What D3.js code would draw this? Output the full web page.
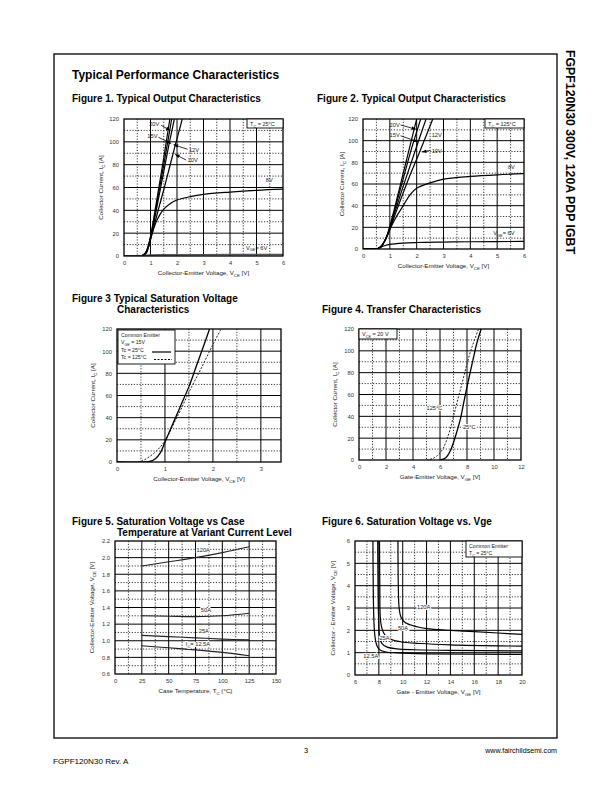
<!DOCTYPE html>
<html><head><meta charset="utf-8">
<script src="https://cdn.jsdelivr.net/npm/d3@7"></script>
<style>
body{margin:0;background:#fff}
svg{display:block;font-family:"Liberation Sans",Arial,sans-serif}
</style>
</head><body>
<svg id="c" width="612" height="792"></svg>
<script>
// ---------------- DATA ----------------
const fig1XTicks=[0,1,2,3,4,5,6];
const fig1YTicks=[0,20,40,60,80,100,120];
const fig1_20V=[[0,0],[0.62,0],[0.72,0.8],[0.82,3],[0.92,9],[1.0,17],[1.1,30],[1.3,58],[1.5,86],[1.73,120]];
const fig1_15V=[[0,0],[0.62,0],[0.72,0.8],[0.82,3],[0.92,9],[1.0,16.5],[1.1,28],[1.3,54],[1.5,80],[1.8,120]];
const fig1_12V=[[0,0],[0.63,0],[0.73,0.8],[0.83,3],[0.93,9],[1.01,16.5],[1.1,26],[1.3,50],[1.5,74],[1.7,98],[1.9,120]];
const fig1_10V=[[0,0],[0.64,0],[0.74,0.8],[0.84,3],[0.94,9],[1.02,16],[1.1,23],[1.3,41],[1.5,58],[1.7,76],[1.9,94],[2.2,120]];
const fig1_8V=[[0,0],[0.65,0],[0.75,0.7],[0.85,3],[0.95,10],[1.05,19],[1.2,29],[1.35,36],[1.5,41],[1.75,46],[2.0,49],[2.5,52],[3,54],[4,56],[5,57.5],[6,58.5]];
const fig1_6V=[[0,0],[0.6,0],[0.8,0.4],[1.0,0.8],[1.5,1.0],[3,1.1],[6,1.3]];

const fig2XTicks=[0,1,2,3,4,5,6];
const fig2YTicks=[0,20,40,60,80,100,120];
const fig2_20V=[[0,0],[0.5,0],[0.6,0.8],[0.7,3],[0.8,7],[0.9,13],[1.0,21],[1.2,40],[1.5,70],[1.8,100],[2.0,120]];
const fig2_15V=[[0,0],[0.5,0],[0.6,0.8],[0.7,3],[0.8,7],[0.9,12.5],[1.0,20],[1.2,38],[1.5,65],[1.8,92],[2.15,120]];
const fig2_12V=[[0,0],[0.5,0],[0.6,0.8],[0.7,3],[0.8,7],[0.9,12],[1.0,19],[1.2,35],[1.5,58],[1.8,80],[2.1,102],[2.35,120]];
const fig2_10V=[[0,0],[0.5,0],[0.6,0.8],[0.7,3],[0.8,7],[0.9,12],[1.0,18],[1.2,32],[1.5,52],[1.8,71],[2.2,95],[2.6,120]];
const fig2_8V=[[0,0],[0.5,0],[0.6,0.8],[0.7,3],[0.8,7],[0.9,12],[1.0,18],[1.2,28],[1.5,40],[1.75,50],[2.0,56],[2.5,61],[3,64.5],[4,67],[5,68.5],[6,69.5]];
const fig2_6V=[[0,0],[0.5,0],[0.6,1],[0.8,3],[1.0,4.3],[1.5,5.5],[2,6],[3,6.4],[4,6.7],[6,7]];

const fig3XTicks=[0,1,2,3];
const fig3YTicks=[0,20,40,60,80,100,120];
const fig3_25C=[[0,0],[0.6,0],[0.7,0.7],[0.8,3],[0.9,8],[1.0,18],[1.1,28],[1.2,38],[1.35,53],[1.5,68],[1.65,86],[1.8,104],[1.93,120]];
const fig3_125C=[[0,0],[0.45,0],[0.55,1.5],[0.7,5.5],[0.8,9],[0.9,13.5],[1.0,19],[1.1,27],[1.2,36],[1.35,49],[1.5,63],[1.75,84],[2.0,106],[2.17,120]];

const fig4XTicks=[0,2,4,6,8,10,12];
const fig4YTicks=[0,20,40,60,80,100,120];
const fig4_25C=[[6.0,0],[6.3,1],[6.5,3],[6.75,8],[7.0,16],[7.25,26],[7.5,37],[7.75,52],[8.0,67],[8.25,81],[8.5,95],[8.75,108],[9.05,120]];
const fig4_125C=[[5.0,0],[5.5,1.5],[5.75,3.5],[6.0,6.5],[6.25,11],[6.5,18.5],[6.75,28],[7.0,40],[7.25,52],[7.5,64],[7.75,76],[8.0,88],[8.25,99],[8.5,108],[8.85,120]];

const fig5XTicks=[0,25,50,75,100,125,150];
const fig5YTicks=[0.6,0.8,1.0,1.2,1.4,1.6,1.8,2.0,2.2];
const fig5Temps=[25,50,75,100,125];
const fig5_120A=[1.90,1.95,2.00,2.06,2.13];
const fig5_50A=[1.30,1.295,1.29,1.30,1.33];
const fig5_25A=[1.065,1.05,1.035,1.02,1.01];
const fig5_12A5=[0.94,0.915,0.89,0.86,0.82];

const fig6XTicks=[6,8,10,12,14,16,18,20];
const fig6YTicks=[0,1,2,3,4,5,6];
const fig6_12A5=[[7.5,6.3],[7.53,4],[7.58,2.5],[7.68,1.7],[7.85,1.3],[8.1,1.12],[8.6,1.03],[9.5,0.99],[12,0.95],[20,0.92]];
const fig6_25A=[[7.9,6.3],[7.93,4],[7.98,2.5],[8.05,1.8],[8.25,1.42],[8.7,1.25],[9.5,1.17],[11,1.13],[14,1.1],[20,1.08]];
const fig6_50A=[[8.05,6.3],[8.08,4],[8.12,2.6],[8.25,2.1],[8.5,1.8],[9.0,1.6],[9.8,1.49],[11.5,1.41],[14,1.35],[20,1.29]];
const fig6_120A=[[9.6,6.3],[9.63,4],[9.7,3],[9.85,2.6],[10.2,2.35],[11.2,2.16],[12,2.08],[14,2.0],[16,1.94],[18,1.88],[20,1.82]];

// ---------------- HELPERS ----------------
const svg=d3.select("#c");
const FONT='"Liberation Sans",Arial,sans-serif';

function rich(g,x,y,str,o={}){
  const size=o.size||6;
  const t=g.append("text").attr("x",x).attr("y",y).attr("font-size",size)
    .attr("fill",o.fill||"#1a1a1a").attr("text-anchor",o.anchor||"start")
    .attr("font-weight",o.weight||"normal");
  if(o.rotate) t.attr("transform",`rotate(${o.rotate},${x},${y})`);
  const parts=str.split(/(_\{[^}]*\})/);
  let sub=false;
  parts.forEach(p=>{
    if(!p) return;
    if(p.startsWith("_{")){
      t.append("tspan").attr("font-size",size*0.7).attr("dy",size*0.3).text(p.slice(2,-1));
      sub=true;
    } else {
      const ts=t.append("tspan").text(p);
      if(sub){ts.attr("dy",-size*0.3);sub=false;}
    }
  });
  return t;
}

let clipId=0;
function chart(o){
  const x=d3.scaleLinear().domain(o.xd).range([o.x0,o.x1]);
  const y=d3.scaleLinear().domain(o.yd).range([o.yb,o.yt]);
  const g=svg.append("g");
  const xs=o.xTicks, ys=o.yTicks;
  const xStep=xs[1]-xs[0], yStep=ys[1]-ys[0];
  const xMinor=[]; for(let v=o.xd[0]+xStep/2; v<o.xd[1]-1e-9; v+=xStep) xMinor.push(v);
  const yMinor=[]; for(let v=o.yd[0]+yStep/2; v<o.yd[1]-1e-9; v+=yStep) yMinor.push(v);
  g.selectAll(".xm").data(xMinor).join("line").attr("x1",d=>x(d)).attr("x2",d=>x(d))
    .attr("y1",o.yt).attr("y2",o.yb).attr("stroke","#000").attr("stroke-width",0.8).attr("stroke-dasharray","1.2,1.6");
  g.selectAll(".ym").data(yMinor).join("line").attr("y1",d=>y(d)).attr("y2",d=>y(d))
    .attr("x1",o.x0).attr("x2",o.x1).attr("stroke","#000").attr("stroke-width",0.8).attr("stroke-dasharray","1.2,1.6");
  g.selectAll(".xM").data(xs.filter(v=>v>o.xd[0]&&v<o.xd[1])).join("line").attr("x1",d=>x(d)).attr("x2",d=>x(d))
    .attr("y1",o.yt).attr("y2",o.yb).attr("stroke","#000").attr("stroke-width",1);
  g.selectAll(".yM").data(ys.filter(v=>v>o.yd[0]&&v<o.yd[1])).join("line").attr("y1",d=>y(d)).attr("y2",d=>y(d))
    .attr("x1",o.x0).attr("x2",o.x1).attr("stroke","#000").attr("stroke-width",1);
  const fmt=o.fmt||(d=>d);
  const ax=g.append("g").attr("transform",`translate(0,${o.yb})`)
    .call(d3.axisBottom(x).tickValues(xs).tickSize(0).tickPadding(5).tickFormat(fmt));
  ax.select(".domain").remove();
  ax.selectAll("text").attr("font-size",5.8).attr("font-family",FONT).attr("fill","#333");
  const ay=g.append("g").attr("transform",`translate(${o.x0},0)`)
    .call(d3.axisLeft(y).tickValues(ys).tickSize(0).tickPadding(5).tickFormat(o.yfmt||(d=>d)));
  ay.select(".domain").remove();
  ay.selectAll("text").attr("font-size",5.8).attr("font-family",FONT).attr("fill","#333");
  const cid="clip"+(clipId++);
  svg.append("clipPath").attr("id",cid).append("rect").attr("x",o.x0).attr("y",o.yt)
    .attr("width",o.x1-o.x0).attr("height",o.yb-o.yt);
  const cg=g.append("g").attr("clip-path",`url(#${cid})`);
  const line=d3.line().x(d=>x(d[0])).y(d=>y(d[1])).curve(d3.curveCatmullRom.alpha(0.5));
  o.series.forEach(s=>{
    cg.append("path").attr("d",line(s.data)).attr("fill","none")
      .attr("stroke",s.color||"#000").attr("stroke-width",s.w||1.2)
      .attr("stroke-dasharray",s.dash||null);
  });
  g.append("rect").attr("x",o.x0).attr("y",o.yt).attr("width",o.x1-o.x0).attr("height",o.yb-o.yt)
    .attr("fill","none").attr("stroke","#000").attr("stroke-width",1.3);
  rich(g,(o.x0+o.x1)/2,o.yb+19,o.xTitle,{size:6.2,anchor:"middle"});
  rich(g,o.x0-(o.yTitleOff||20),(o.yt+o.yb)/2,o.yTitle,{size:6.2,anchor:"middle",rotate:-90});
  return {g,x,y};
}

function boxText(g,x0,y0,w,h,lines,size){
  g.append("rect").attr("x",x0).attr("y",y0).attr("width",w).attr("height",h)
    .attr("fill","#fff").attr("stroke","#000").attr("stroke-width",0.9);
  lines.forEach((l,i)=>rich(g,x0+3,y0+size+1.5+i*(size+2.2),l,{size}));
}

function arrow(c,fx,fy,tx,ty){
  const x1=c.x(fx),y1=c.y(fy),x2=c.x(tx),y2=c.y(ty);
  c.g.append("line").attr("x1",x1).attr("y1",y1).attr("x2",x2).attr("y2",y2).attr("stroke","#000").attr("stroke-width",0.8);
  const a=Math.atan2(y2-y1,x2-x1), L=4.5, W=1.8;
  const p=[[x2,y2],[x2-L*Math.cos(a)+W*Math.sin(a),y2-L*Math.sin(a)-W*Math.cos(a)],[x2-L*Math.cos(a)-W*Math.sin(a),y2-L*Math.sin(a)+W*Math.cos(a)]];
  c.g.append("polygon").attr("points",p.map(q=>q.join(",")).join(" ")).attr("fill","#000");
}
function label(c,dx,dy,str,o={}){
  const t=rich(c.g,c.x(dx),c.y(dy),str,Object.assign({size:5.7},o));
  t.attr("paint-order","stroke").attr("stroke","#fff").attr("stroke-width",o.halo||0);
  return t;
}

// ---------------- PAGE ----------------
svg.append("rect").attr("x",54).attr("y",54).attr("width",503).attr("height",684)
  .attr("fill","none").attr("stroke","#000").attr("stroke-width",1.3);
svg.append("text").attr("x",72).attr("y",79).attr("font-size",12).attr("font-weight","bold").text("Typical Performance Characteristics");
svg.append("text").attr("transform","translate(566,50) rotate(90)").attr("font-size",12.3).attr("font-weight","bold").text("FGPF120N30  300V, 120A PDP IGBT");
svg.append("text").attr("x",53).attr("y",764).attr("font-size",8.1).text("FGPF120N30 Rev. A");
svg.append("text").attr("x",306).attr("y",753).attr("font-size",7.5).attr("text-anchor","middle").text("3");
svg.append("text").attr("x",557).attr("y",753).attr("font-size",7.1).attr("text-anchor","end").text("www.fairchildsemi.com");

const tf={size:10,weight:"bold",fill:"#000"};
rich(svg,72,102,"Figure 1. Typical Output Characteristics",tf);
rich(svg,317,102,"Figure 2. Typical Output Characteristics",tf);
rich(svg,72,302,"Figure 3 Typical Saturation Voltage",tf);
rich(svg,117,313,"Characteristics",tf);
rich(svg,322,313,"Figure 4.  Transfer Characteristics",tf);
rich(svg,72,525,"Figure 5. Saturation Voltage vs Case",tf);
rich(svg,117,536,"Temperature at Variant Current  Level",tf);
rich(svg,322,525,"Figure 6.  Saturation Voltage vs. Vge",tf);

// Figure 1
const c1=chart({xd:[0,6],yd:[0,120],x0:124,x1:283,yt:119,yb:256,xTicks:fig1XTicks,yTicks:fig1YTicks,
  xTitle:"Collector-Emitter Voltage, V_{CE} [V]",yTitle:"Collector Current, I_{C} [A]",yTitleOff:21,
  series:[{data:fig1_20V},{data:fig1_15V},{data:fig1_12V},{data:fig1_10V},{data:fig1_8V},{data:fig1_6V,color:"#555",w:1.6}]});
boxText(c1.g,283-36,119,36,9,["T_{C} = 25°C"],5.5);
label(c1,0.95,114,"20V"); arrow(c1,1.4,114.5,1.75,110);
label(c1,0.88,103,"15V"); arrow(c1,1.3,104,1.78,98.5);
label(c1,2.45,91.5,"12V"); arrow(c1,2.4,93.5,1.87,97.5);
label(c1,2.4,82,"10V"); arrow(c1,2.35,84,1.93,89);
label(c1,5.35,65,"8V");
label(c1,4.6,5.5,"V_{GE}= 6V");

// Figure 2
const c2=chart({xd:[0,6],yd:[0,120],x0:363,x1:524,yt:119,yb:249,xTicks:fig2XTicks,yTicks:fig2YTicks,
  xTitle:"Collector-Emitter Voltage, V_{CE} [V]",yTitle:"Collector Current, I_{C} [A]",yTitleOff:19,
  series:[{data:fig2_20V},{data:fig2_15V},{data:fig2_12V},{data:fig2_10V},{data:fig2_8V},{data:fig2_6V}]});
boxText(c2.g,524-39,119,39,9,["T_{C} = 125°C"],5.5);
label(c2,0.99,113,"20V"); arrow(c2,1.4,114.5,1.98,110.5);
label(c2,0.99,103.5,"15V"); arrow(c2,1.4,104.5,2.05,99);
label(c2,2.56,103,"12V");
label(c2,2.56,89,"10V"); arrow(c2,2.5,91,2.2,89.5);
label(c2,5.4,74,"8V");
label(c2,4.85,12.5,"V_{GE}= 6V");

// Figure 3
const c3=chart({xd:[0,3.42],yd:[0,120],x0:117,x1:281,yt:329,yb:462,xTicks:[0,1,2,3],yTicks:fig3YTicks,
  xTitle:"Collector-Emitter Voltage, V_{CE} [V]",yTitle:"Collector Current, I_{C} [A]",yTitleOff:22,
  series:[{data:fig3_125C,dash:"2,1.5",w:1,color:"#222"},{data:fig3_25C,w:1.3}]});
boxText(c3.g,118,330,57,34,["Common Emitter","V_{GE} = 15V","Tc =  25°C","Tc = 125°C"],5.2);
c3.g.append("line").attr("x1",152).attr("x2",171).attr("y1",352).attr("y2",352).attr("stroke","#000").attr("stroke-width",1.2);
c3.g.append("line").attr("x1",154).attr("x2",172).attr("y1",359.5).attr("y2",359.5).attr("stroke","#000").attr("stroke-width",1).attr("stroke-dasharray","2,1.5");

// Figure 4
const c4=chart({xd:[0,12],yd:[0,120],x0:359,x1:521,yt:329,yb:460,xTicks:fig4XTicks,yTicks:fig4YTicks,
  xTitle:"Gate-Emitter Voltage, V_{GE} [V]",yTitle:"Collector Current, I_{C} [A]",yTitleOff:22,
  series:[{data:fig4_125C,dash:"2,1.5",w:1,color:"#222"},{data:fig4_25C,w:1.3}]});
boxText(c4.g,359,329,38,10,["V_{CE} = 20 V"],5.5);
label(c4,5.0,45.5,"125°C",{halo:2});
label(c4,7.7,28.5,"25°C",{halo:2});

// Figure 5
const c5=chart({xd:[0,150],yd:[0.6,2.2],x0:115,x1:276,yt:541,yb:674,xTicks:fig5XTicks,yTicks:fig5YTicks,
  fmt:d=>d,yfmt:d3.format(".1f"),
  xTitle:"Case Temperature, T_{C} (°C)",yTitle:"Collector-Emitter Voltage, V_{CE} [V]",yTitleOff:21,
  series:[fig5_120A,fig5_50A,fig5_25A,fig5_12A5].map(v=>({data:fig5Temps.map((t,i)=>[t,v[i]]),w:1.1,color:"#222"}))});
label(c5,76,2.07,"120A",{halo:2});
label(c5,80,1.345,"50A",{halo:2});
label(c5,78,1.095,"25A",{halo:2});
label(c5,66,0.935,"I_{C}= 12.5A",{halo:2});

// Figure 6
const c6=chart({xd:[6,20],yd:[0,6],x0:355,x1:522,yt:541,yb:675,xTicks:fig6XTicks,yTicks:fig6YTicks,
  xTitle:"Gate - Emitter Voltage, V_{GE} [V]",yTitle:"Collector - Emitter Voltage, V_{CE} [V]",yTitleOff:20,
  series:[{data:fig6_12A5},{data:fig6_25A},{data:fig6_50A},{data:fig6_120A}]});
boxText(c6.g,522-56,541,56,16,["Common Emitter","T_{C} = 25°C"],5.2);
label(c6,11.2,2.95,"120A",{halo:2});
label(c6,9.6,2.0,"50A",{halo:2});
label(c6,8.05,1.55,"25A",{halo:2});
label(c6,6.7,0.75,"12.5A",{halo:2});
</script>
</body></html>
